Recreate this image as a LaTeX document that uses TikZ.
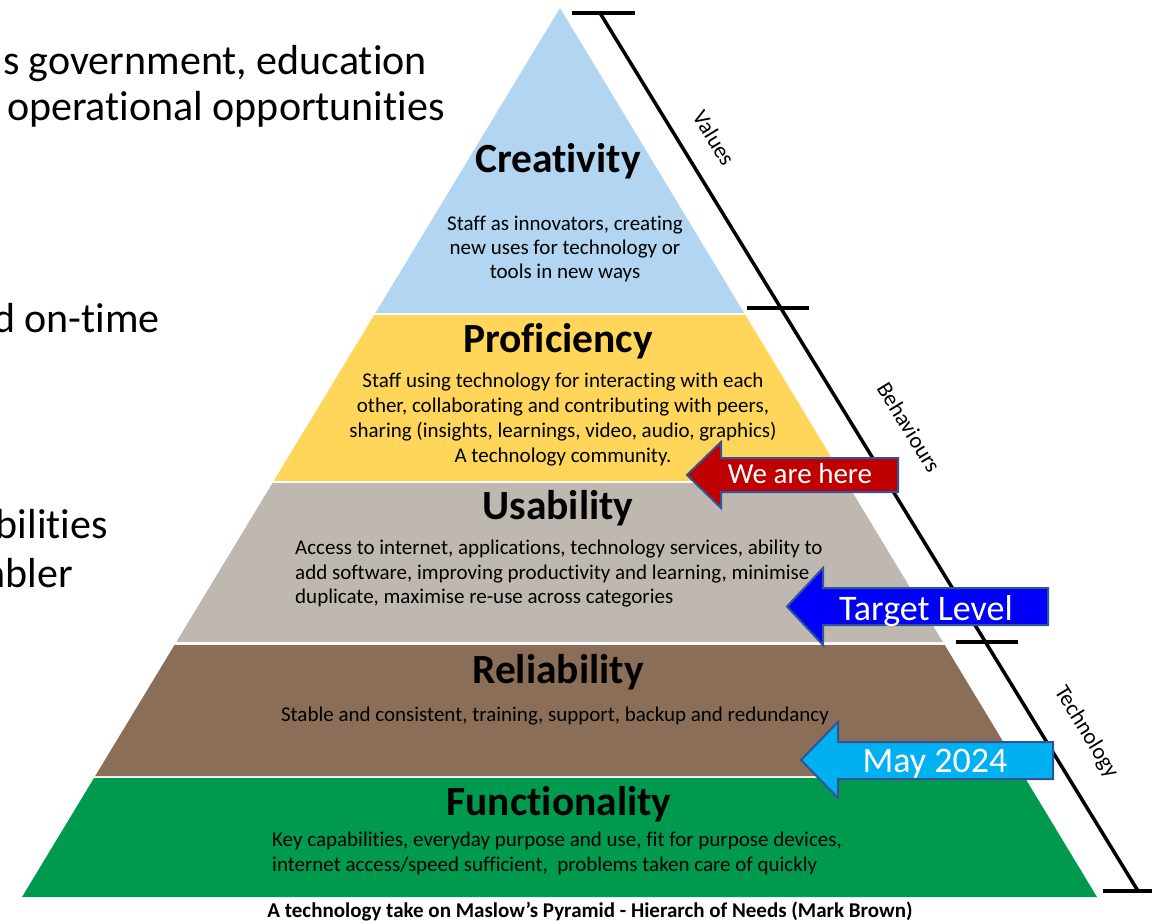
\documentclass[tikz,border=0pt]{standalone}
\usepackage{fontspec}
\setmainfont{Carlito}[Ligatures={NoCommon,NoContextual},RawFeature={-calt}]
\definecolor{crea}{RGB}{178,214,241}
\definecolor{prof}{RGB}{255,214,90}
\definecolor{usab}{RGB}{190,184,177}
\definecolor{reli}{RGB}{139,110,87}
\definecolor{func}{RGB}{0,154,79}
\definecolor{darkred}{RGB}{192,0,0}
\definecolor{tblue}{RGB}{0,0,250}
\definecolor{mayblue}{RGB}{0,176,240}
\definecolor{arrowedge}{RGB}{47,85,151}
\begin{document}
\begin{tikzpicture}[x=1pt,y=-1pt,
  title/.style={font=\fontsize{41.5}{48}\selectfont\bfseries, anchor=base, inner sep=0pt},
  body/.style={font=\fontsize{21}{25}\selectfont, anchor=base, inner sep=0pt},
  bodyl/.style={body, anchor=base west},
  side/.style={font=\fontsize{42}{50}\selectfont, anchor=base east, inner sep=0pt},
  tag/.style={font=\fontsize{22.5}{26}\selectfont, inner sep=0pt, rotate=-58.5},
  arrowlbl/.style={text=white, anchor=base, inner sep=0pt},
  arrowbody/.style={draw=arrowedge, line width=2pt, line join=miter},
  ruler/.style={line width=3.5pt, black}]
\useasboundingbox (0,0) rectangle (1152,923);

% pyramid layers
\fill[crea] (560,8) -- (744.2,313) -- (375.4,313) -- cycle;
\fill[prof] (374.2,315) -- (745.4,315) -- (845.7,481) -- (273.7,481) -- cycle;
\fill[usab] (272.5,483) -- (846.9,483) -- (942.9,642) -- (176.3,642) -- cycle;
\fill[reli] (174.5,645) -- (944.7,645) -- (1023.9,776) -- (95.2,776) -- cycle;
\fill[func] (94,778) -- (1025.1,778) -- (1097,897) -- (22,897) -- cycle;

% left-side (cut off) text
\node[side] (s1) at (427,75) {s government, education};
\node[side] (s2) at (445,121) {operational opportunities};
\node[side] (s3) at (160,332) {d on-time};
\node[side] (s4) at (108,538) {bilities};
\node[side] (s5) at (73,587) {abler};

% Creativity
\node[title] (t1) at (558,172) {Creativity};
\node[body] (c1) at (565,230) {Staff as innovators, creating};
\node[body] (c2) at (565,254) {new uses for technology or};
\node[body] (c3) at (565,278) {tools in new ways};

% Proficiency
\node[title] (t2) at (558,352) {Proficiency};
\node[body] (p1) at (563,387) {Staff using technology for interacting with each};
\node[body] (p2) at (563,412) {other, collaborating and contributing with peers,};
\node[body] (p3) at (563,437) {sharing (insights, learnings, video, audio, graphics)};
\node[body] (p4) at (563,462) {A technology community.};

% Usability
\node[title] (t3) at (558,519) {Usability};
\node[bodyl] (u1) at (295,554) {Access to internet, applications, technology services, ability to};
\node[bodyl] (u2) at (295,579) {add software, improving productivity and learning, minimise};
\node[bodyl] (u3) at (295,603) {duplicate, maximise re-use across categories};

% Reliability
\node[title] (t4) at (558,683) {Reliability};
\node[body] (r1) at (555,721) {Stable and consistent, training, support, backup and redundancy};

% Functionality
\node[title] (t5) at (559,815) {Functionality};
\node[bodyl] (f1) at (272,846) {Key capabilities, everyday purpose and use, fit for purpose devices,};
\node[bodyl] (f2) at (272,871) {internet access/speed sufficient,\ \ problems taken care of quickly};

% caption
\node[font=\fontsize{21}{25}\selectfont\bfseries, anchor=base, inner sep=0pt] (cap) at (590,917)
  {A technology take on Maslow’s Pyramid - Hierarch of Needs (Mark Brown)};

% ruler
\coordinate (rtop) at (600,13);
\coordinate (rbot) at (1138,891);
\draw[ruler] (rtop) -- (rbot);
\draw[ruler] (572,13) -- (635,13);
\draw[ruler] (747,308) -- (809,308);
\draw[ruler] (956,642) -- (1018,642);
\draw[ruler] (1103,891) -- (1170,891);
\node[tag] (v) at (714,138) {Values};
\node[tag] (b) at (909,427) {Behaviours};
\node[tag] (tg) at (1086,732) {Technology};

% arrows
\filldraw[arrowbody, fill=darkred] (687,475) -- (721,442) -- (721,458) -- (898,458) -- (898,492) -- (721,492) -- (721,508) -- cycle;
\node[arrowlbl, font=\fontsize{29}{34}\selectfont] (a1) at (800,483) {We are here};

\filldraw[arrowbody, fill=tblue] (787,606.5) -- (823,568) -- (823,588) -- (1048,588) -- (1048,625) -- (823,625) -- (823,645) -- cycle;
\node[arrowlbl, font=\fontsize{36}{42}\selectfont] (a2) at (926,620) {Target Level};

\filldraw[arrowbody, fill=mayblue] (801,760) -- (838,722) -- (838,742) -- (1053,742) -- (1053,779) -- (838,779) -- (838,798) -- cycle;
\node[arrowlbl, font=\fontsize{36}{42}\selectfont] (a3) at (935,772) {May 2024};
\end{tikzpicture}
\end{document}
